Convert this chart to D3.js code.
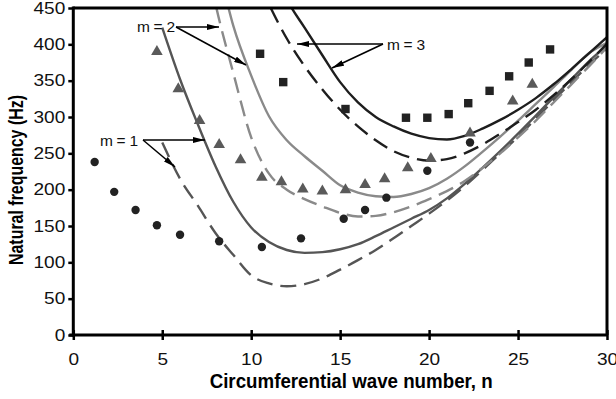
<!DOCTYPE html>
<html>
<head>
<meta charset="utf-8">
<script src="https://cdn.jsdelivr.net/npm/d3@7"></script>
<style>
  body { margin: 0; background: #fff; }
  svg { display: block; font-family: "Liberation Sans", Arial, sans-serif; }
</style>
</head>
<body>
<svg id="chart" width="616" height="399"></svg>
<script>
// ---- data ----
const xTicks = [0, 5, 10, 15, 20, 25, 30];
const yTicks = [0, 50, 100, 150, 200, 250, 300, 350, 400, 450];

// measured points
const circleN = [1.2, 2.3, 3.5, 4.7, 6.0, 8.2, 10.6, 12.8, 15.2, 16.4, 17.6, 19.9, 22.3];
const circleF = [238, 197, 172, 151, 138, 129, 121, 133, 160, 172, 189, 226, 265];

const triN = [4.7, 5.9, 7.1, 8.2, 9.4, 10.6, 11.7, 12.9, 14.0, 15.3, 16.4, 17.5, 18.8, 20.1, 22.3, 24.7, 25.8];
const triF = [391, 340, 296, 263, 242, 218, 212, 202, 199, 201, 208, 216, 231, 244, 279, 323, 346];

const sqN = [10.5, 11.8, 15.3, 18.7, 19.9, 21.1, 22.2, 23.4, 24.5, 25.6, 26.8];
const sqF = [387, 348, 311, 299, 299, 304, 319, 336, 356, 375, 393];

// predicted curves (integer n)
const m1SolidN = d3.range(5, 31);
const m1SolidF = [423, 352, 290, 232, 183, 148, 128, 117, 113, 114, 118, 125, 136, 148, 160, 172, 188, 208, 230, 253, 277, 302, 327, 352, 377, 398];
const m1DashN = d3.range(5, 31);
const m1DashF = [265, 215, 178, 140, 110, 82, 71, 67, 70, 78, 90, 103, 117, 133, 150, 167, 185, 205, 227, 250, 273, 298, 323, 348, 372, 394];
const m2SolidN = d3.range(8, 31);
const m2SolidF = [525, 425, 357, 301, 268, 246, 226, 206, 196, 191, 190, 194, 202, 215, 232, 252, 273, 295, 318, 341, 365, 388, 402];
const m2DashN = d3.range(7, 31);
const m2DashF = [580, 455, 360, 272, 222, 200, 187, 177, 168, 163, 164, 169, 177, 187, 198, 212, 230, 250, 272, 295, 320, 345, 370, 396];
const m3SolidN = d3.range(11, 31);
const m3SolidF = [520, 462, 423, 385, 348, 320, 300, 287, 277, 271, 269, 274, 284, 296, 310, 326, 345, 366, 388, 410];
const m3DashN = d3.range(10, 31);
const m3DashF = [510, 455, 408, 370, 338, 310, 287, 268, 253, 244, 240, 242, 250, 262, 277, 293, 310, 330, 352, 376, 401];

// ---- layout ----
const svg = d3.select("#chart");
const margin = { left: 73.3, top: 8, right: 9, bottom: 64 };
const W = 616, H = 399;

const x = d3.scaleLinear().domain([0, 30]).range([margin.left, W - margin.right]);
const y = d3.scaleLinear().domain([0, 450]).range([H - margin.bottom, margin.top]);

const defs = svg.append("defs");
defs.append("clipPath").attr("id", "plotclip")
  .append("rect")
  .attr("x", x(0)).attr("y", y(450))
  .attr("width", x(30) - x(0)).attr("height", y(0) - y(450));

defs.append("marker")
  .attr("id", "arrow")
  .attr("markerUnits", "userSpaceOnUse")
  .attr("viewBox", "0 0 12 6")
  .attr("refX", 12).attr("refY", 3)
  .attr("markerWidth", 12).attr("markerHeight", 6)
  .attr("orient", "auto")
  .append("path").attr("d", "M0,0 L12,3 L0,6 Z").attr("fill", "#000");

// ---- curves ----
const curves = [
  { n: m1SolidN, f: m1SolidF, color: "#555", dash: null },
  { n: m1DashN, f: m1DashF, color: "#555", dash: "16,8" },
  { n: m2SolidN, f: m2SolidF, color: "#8a8a8a", dash: null },
  { n: m2DashN, f: m2DashF, color: "#8a8a8a", dash: "16,8" },
  { n: m3SolidN, f: m3SolidF, color: "#1e1e1e", dash: null },
  { n: m3DashN, f: m3DashF, color: "#1e1e1e", dash: "16,8" }
];

const line = d3.line()
  .x(d => x(d[0])).y(d => y(d[1]))
  .curve(d3.curveMonotoneX);

const plot = svg.append("g").attr("clip-path", "url(#plotclip)");

curves.forEach(c => {
  plot.append("path")
    .datum(c.n.map((n, i) => [n, c.f[i]]))
    .attr("d", line)
    .attr("fill", "none")
    .attr("stroke", c.color)
    .attr("stroke-width", 2.4)
    .attr("stroke-dasharray", c.dash);
});

// ---- markers ----
plot.selectAll("circle.pt")
  .data(circleN.map((n, i) => [n, circleF[i]]))
  .join("circle")
  .attr("class", "pt")
  .attr("cx", d => x(d[0])).attr("cy", d => y(d[1]))
  .attr("r", 4.2).attr("fill", "#222");

plot.selectAll("path.tri")
  .data(triN.map((n, i) => [n, triF[i]]))
  .join("path")
  .attr("class", "tri")
  .attr("transform", d => `translate(${x(d[0])},${y(d[1])})`)
  .attr("d", "M0,-5.8 L5.8,4.2 L-5.8,4.2 Z")
  .attr("fill", "#5a5a5a");

plot.selectAll("rect.sq")
  .data(sqN.map((n, i) => [n, sqF[i]]))
  .join("rect")
  .attr("class", "sq")
  .attr("x", d => x(d[0]) - 4.2).attr("y", d => y(d[1]) - 4.2)
  .attr("width", 8.4).attr("height", 8.4)
  .attr("fill", "#222");

// ---- frame (top and right) ----
svg.append("path")
  .attr("d", `M${x(0)},${y(450)} H${x(30)} V${y(0)}`)
  .attr("fill", "none").attr("stroke", "#000").attr("stroke-width", 3);

// ---- axes ----
// tick labels in the figure are wider than Arial, so stretch them a little
function widenLabels(sel) {
  sel.selectAll(".tick text")
    .attr("font-size", 16.5)
    .attr("font-family", "Liberation Sans, Arial, sans-serif")
    .attr("fill", "#111")
    .attr("textLength", function() { return 10.6 * this.textContent.length; })
    .attr("lengthAdjust", "spacingAndGlyphs");
}

const xAxis = svg.append("g")
  .attr("transform", `translate(0,${y(0)})`)
  .call(d3.axisBottom(x).tickValues(xTicks).tickSize(5).tickPadding(13));
xAxis.select(".domain").attr("stroke-width", 3).attr("d", `M${x(0) - 4},0 H${x(30)}`);
xAxis.selectAll(".tick line").attr("y1", -5).attr("y2", 5).attr("stroke-width", 2.5);
widenLabels(xAxis);

const yAxis = svg.append("g")
  .attr("transform", `translate(${x(0)},0)`)
  .call(d3.axisLeft(y).tickValues(yTicks).tickSize(5).tickPadding(3));
yAxis.select(".domain").attr("stroke-width", 3).attr("d", `M0,${y(0) + 1.5} V${y(450) - 1.5}`);
yAxis.selectAll(".tick line").attr("stroke-width", 2.5);
widenLabels(yAxis);

// ---- axis titles ----
svg.append("text")
  .attr("x", (x(0) + x(30)) / 2 + 11).attr("y", 388)
  .attr("text-anchor", "middle")
  .attr("font-size", 19.5).attr("font-weight", "bold")
  .attr("textLength", 283).attr("lengthAdjust", "spacingAndGlyphs")
  .text("Circumferential wave number, n");

svg.append("text")
  .attr("transform", "translate(22.5,180) rotate(-90)")
  .attr("text-anchor", "middle")
  .attr("font-size", 19.5).attr("font-weight", "bold")
  .attr("textLength", 170).attr("lengthAdjust", "spacingAndGlyphs")
  .text("Natural frequency (Hz)");

// ---- annotations ----
const notes = [
  { label: "m = 1", tx: 100, ty: 146, from: [143, 140], to: [[205, 140], [175, 167]] },
  { label: "m = 2", tx: 137, ty: 32, from: [176, 27], to: [[219, 27], [246, 65]] },
  { label: "m = 3", tx: 387, ty: 50, from: [383, 44], to: [[297, 44], [332, 68]] }
];
notes.forEach(a => {
  svg.append("text")
    .attr("x", a.tx).attr("y", a.ty)
    .attr("font-size", 15.5)
    .attr("fill", "#111")
    .attr("textLength", 38).attr("lengthAdjust", "spacing")
    .text(a.label);
  a.to.forEach(t => {
    svg.append("line")
      .attr("x1", a.from[0]).attr("y1", a.from[1])
      .attr("x2", t[0]).attr("y2", t[1])
      .attr("stroke", "#000").attr("stroke-width", 1.5)
      .attr("marker-end", "url(#arrow)");
  });
});
</script>
</body>
</html>
